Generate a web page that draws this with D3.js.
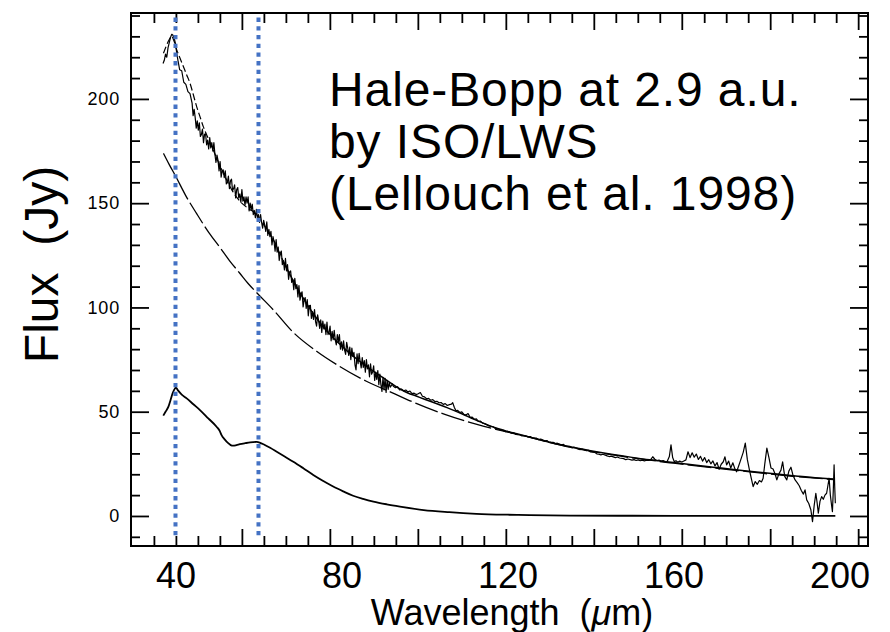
<!DOCTYPE html>
<html>
<head>
<meta charset="utf-8">
<script src="https://cdn.jsdelivr.net/npm/d3@7"></script>
<style>
  body { margin: 0; background: #fff; }
  svg { display: block; }
  text { font-family: "Liberation Sans", Arial, Helvetica, sans-serif; fill: #000; }
</style>
</head>
<body>
<svg id="chart" width="890" height="632"></svg>
<script>
// ISO/LWS spectrum of comet Hale-Bopp (wavelength in µm, flux in Jy)
const observed = [
  [37.0,217],[37.3,218.5],[37.6,221.5],[37.9,220],[38.2,224.5],[38.5,227],[38.8,229.5],[39.1,231],
  [39.4,230.5],[39.7,229],[40.0,226.5],[40.3,222],[40.5,219.5],[41,214],[41.5,213.5],[42,208],
  [42.5,207],[43,203.5],[43.5,202.5],
  [44.00,198],[44.25,192],[44.50,195],[44.75,191],[45.00,186],[45.25,189.5],[45.50,185],[45.75,188.5],
  [46.00,182],[46.25,183],[46.50,185.5],[46.75,179],[47.00,183],[47.25,183.25],[47.50,178],[47.75,180.25],
  [48.00,176],[48.25,181.5],[48.50,176.5],[48.75,179],[49.00,175],[49.25,179],[49.50,173.5],[49.75,169.5],
  [50.00,173],[50.25,170.5],[50.50,165.5],[50.75,170],[51.00,162.5],[51.25,165.5],[51.50,166],[51.75,162.25],
  [52.00,165.5],[52.25,159.25],[52.50,160],[52.75,163],[53.00,157],[53.25,160.75],[53.50,161.5],[53.75,156],
  [54.00,157],[54.25,158.75],[54.50,152.5],[54.75,156.5],[55.00,157.5],[55.25,152.5],[55.50,154.5],[55.75,150.5],
  [56.00,156.5],[56.25,151],[56.50,153],[56.75,149],[57.00,153],[57.25,150],[57.50,153],[57.75,146.25],
  [58.00,150],[58.25,146.75],[58.50,149.5],[58.75,144.5],[59.00,146.5],[59.25,143],[59.50,147],[59.75,142.75],
  [60.00,144.5],[60.25,140.75],[60.50,144.5],[60.75,140.75],[61.00,138],[61.25,141.75],[61.50,139.5],[61.75,136.5],
  [62.00,141],[62.25,134.5],[62.50,137.5],[62.75,134],[63.00,136.5],[63.25,130],[63.50,134],[63.75,131.5],
  [64.00,127],[64.25,132.5],[64.50,126.5],[64.75,129],[65.00,122.5],[65.25,126],[65.50,127],[65.75,120.5],
  [66.00,122.5],[66.25,118],[66.50,123.5],[66.75,117.5],[67.00,120.5],[67.25,113.5],[67.50,117],[67.75,117.5],
  [68.00,112],[68.25,113.5],[68.50,108.5],[68.75,114],[69.00,109],[69.25,111],[69.50,105],[69.75,110.5],
  [70.00,103.5],[70.25,106.25],[70.50,107.5],[70.75,100.25],[71.00,103.5],[71.25,104.75],[71.50,99.5],[71.75,103.75],
  [72.00,96],[72.25,100.75],[72.50,101],[72.75,94.75],[73.00,98],[73.25,94.25],[73.50,99],[73.75,93.25],
  [74.00,91],[74.25,96.5],[74.50,93.5],[74.75,90],[75.00,94],[75.25,88],[75.50,93.5],[75.75,89.75],
  [76.00,92],[76.25,87],[76.50,93],[76.75,87],[77.00,88],[77.25,91],[77.50,84],[77.75,88.5],
  [78.00,84.5],[78.25,89],[78.50,84.5],[78.75,82],[79.00,87],[79.25,83.5],[79.50,87],[79.75,80],
  [80.00,83.5],[80.25,79.5],[80.50,84],[80.75,79.5],[81.00,77.5],[81.25,83.25],[81.50,80.5],[81.75,77],
  [82.00,81],[82.25,75],[82.50,80.5],[82.75,76.5],[83.00,78.5],[83.25,72.5],[83.50,70],[83.75,77.75],
  [84.00,73],[84.25,78],[84.50,74],[84.75,71],[85.00,76],[85.25,71.25],[85.50,74.5],[85.75,69],
  [86.00,75],[86.25,70.5],[86.50,72.5],[86.75,66.75],[87.00,73],[87.25,68],[87.50,69],[87.75,72],
  [88.00,65],[88.25,69],[88.50,65.5],[88.75,69.75],[89.00,63],[89.25,68],[89.50,63],[89.75,59.75],
  [90.00,66.5],[90.25,60.5],[90.50,66],[90.75,59.25],[91.00,65],[91.25,60.75],[91.50,64],[91.75,61.75],
  [92.00,62.5],[92.25,63.25],[92.5,62.2],[93,61.5],[93.5,62],[94,60.5],
  [94.5,60.8],[95,60],[95.5,60.4],[96,59.5],[96.5,59.9],[97,58.7],[97.5,58.9],[98,58.2],
  [98.5,58.6],[99,59.2],[99.5,57.4],[100,57.1],[100.5,56.2],[101,56.4],[101.5,55.5],[102,55.8],
  [102.5,54.9],[103,55.0],[103.5,54.3],[104,54.4],[104.5,53.5],[105,53.9],[105.5,53.0],[106,53.4],
  [106.5,53.6],[106.8,54.3],[107.2,52.0],[107.6,50.4],[108,50.6],[108.5,49.6],[109,49.9],[109.5,48.7],
  [110,48.4],[110.5,49.1],[111,47.3],[111.5,47.4],[112,46.4],[112.5,46.6],[113,45.4],[113.5,45.5],
  [114,44.5],[114.5,44.3],[115,43.8],[115.5,43.2],[116,42.9],[116.5,42.8],[117,42.1],[118,41.6],
  [118.5,41.0],[119,41.1],[119.5,40.4],[120,40.6],[121,39.7],[121.5,39.9],[122,39.1],[123,38.9],
  [123.5,38.4],[124,38.6],[125,37.9],[125.5,38.1],[126,37.4],[127,37.3],[127.5,36.6],[128,36.9],
  [129,36.0],[129.5,36.2],[130,35.4],[131,35.3],[131.5,34.7],[132,34.9],[133,34.1],[133.5,34.3],
  [134,33.5],[135,33.4],[135.5,32.8],[136,33.0],[137,32.3],[137.5,31.8],[138,32.1],[139,31.3],
  [139.5,31.5],[140,30.7],[141,30.5],[141.5,29.8],[142,29.6],[142.5,29.3],[143,29.6],[144,28.8],
  [144.5,28.5],[145,28.7],[146,28.0],[146.5,28.3],[147,27.8],[148,27.5],[148.5,27.0],[149,27.3],
  [150,26.8],[150.5,27.0],[151,26.6],[151.5,26.9],[152,26.5],[152.5,26.8],[153,26.4],[153.5,26.7],
  [154,26.6],[154.5,27.0],[155,28.4],[155.5,27.2],[156,26.5],[156.5,26.8],[157,26.2],[157.5,26.6],
  [158,26.0],[158.5,26.2],[159,28.5],[159.4,34.1],[159.8,28.0],[160.2,26.0],[160.6,26.5],[161,25.8],
  [161.5,26.3],[162,25.9],[162.5,26.4],[163,26.9],[163.5,30.8],[164,28.0],[164.5,30.3],[165,28.2],
  [165.5,29.7],[166,27.1],[166.5,28.6],[167,26.3],[167.5,28.0],[168,25.6],[168.5,27.0],[169,25.0],
  [169.5,26.4],[170,24.0],[170.5,25.6],[171,22.4],[171.5,24.8],[172,26.0],[172.4,28.4],[172.8,24.5],
  [173.3,26.3],[173.8,23.0],[174.3,25.5],[174.8,22.6],[175.2,21.2],[175.7,24.0],[176.2,26.9],[176.8,30.5],
  [177.3,34.9],[177.8,27.0],[178.3,22.1],[178.8,17.5],[179.2,14.1],[179.7,16.5],[180.2,15.2],[180.7,17.0],
  [181.2,16.3],[181.6,18.1],[182.0,25.0],[182.5,32.5],[183.0,28.0],[183.5,23.0],[184.0,22.5],[184.5,20.0],
  [184.9,17.3],[185.4,20.2],[185.9,22.0],[186.3,26.0],[186.8,19.0],[187.3,17.3],[187.8,21.5],[188.3,23.4],
  [188.8,19.5],[189.3,17.3],[189.8,16.0],[190.3,14.5],[190.8,12.2],[191.3,10.5],[191.7,12.5],[192.1,7.7],
  [192.6,6.0],[193.1,3.0],[193.5,-2.7],[193.9,5.0],[194.3,10.9],[194.6,6.5],[194.9,1.3],[195.3,7.0],
  [195.7,9.3],[196.1,8.0],[196.5,10.0],[196.9,10.9],[197.2,14.5],[197.5,18.1],[197.8,10.0],[198.1,5.0],
  [198.3,2.1],[198.5,12.0],[198.7,24.5],[198.85,14.0],[199.0,6.1]
];

// Total model (dashed at short wavelengths, solid beyond)
const totalModel = [
  [37.1,221.9],[37.8,225.5],[38.5,228.5],[39.1,230.0],[39.6,228.0],[40.3,223.5],[41.1,219.5],[41.9,215.5],
  [42.7,211.5],[43.5,207.5],[44.3,202.0],[45.1,196.3],[45.9,191.5],[46.7,186.7],[47.9,181.0],[49.1,175.5],
  [50.7,168.0],[52.3,161.2],[53.9,155.3],[55.5,151.0],[57.5,147.5],[59.6,144.5],[61.0,140.5],[62.3,136.5],
  [63.6,132.4],[65.0,126.5],[66,122],[67,118],[68,114.2],[69,110.5],[70,107],[71,103.8],[72,100.6],
  [73,97.6],[74,94.8],[75,92.2],[76,89.8],[77,87.6],[78,85.5],[80,81.6],[82,78.0],[84,74.8],[86,71.8],
  [88,69.0],[90,66.3],[92,63.6],[94,61.0],[96,59.0],[98,57.5],[100,56.0],[103,53.8],[106,51.5],
  [109,49.0],[112,46.3],[115,43.8],[118,41.7],[121,40.0],[125,38.0],[130,35.4],[135,33.2],[140,31.3],
  [145,29.6],[150,28.1],[155,26.8],[160,25.6],[165,24.4],[170,23.3],[175,22.2],[180,21.1],[185,20.1],
  [190,19.1],[195,18.2],[198.5,17.7]
];
const dashedUpTo = 66;

// Continuum component (long dashes)
const continuum = [
  [37.1,173.9],[38.5,168.5],[40.1,162.7],[42.5,153.5],[45.1,145.0],[48.0,136.0],[50.7,128.8],[53.0,122.5],
  [55.5,116.4],[57.5,111.5],[59.7,106.8],[63.6,98.8],[68.4,88.0],[74.0,79.0],[79.5,71.8],[86.0,64.6],
  [92.0,59.3],[98.0,54.0],[104.9,48.7],[110,45.4],[116.3,42.0],[125.3,37.8],[135,33.0],[145,29.4],
  [160,25.3],[175,21.9],[190,18.8],[198.5,17.5]
];

// Crystalline feature component (solid, bottom)
const feature = [
  [37.06,48.1],[37.6,50.0],[38.3,52.4],[38.8,55.5],[39.3,58.8],[39.7,60.6],[40.1,61.5],[40.6,60.2],
  [41.5,58.2],[42.7,56.4],[44.3,53.6],[45.9,50.8],[47.9,46.8],[49.9,42.8],[50.6,41.0],[51.1,38.8],
  [51.9,36.6],[52.7,34.9],[53.3,34.0],[53.9,33.7],[54.7,34.0],[55.5,34.4],[56.8,34.9],[58.0,35.3],
  [59.6,35.5],[60.4,35.1],[61.2,34.4],[62.8,32.7],[64.4,30.8],[66.4,28.4],[68.4,26.0],[70.8,22.9],
  [73.2,19.7],[75.6,16.8],[78.0,14.1],[80.4,11.8],[82.8,9.7],[85.2,8.2],[87.7,6.9],[90.9,5.6],
  [94.1,4.5],[99.8,2.8],[106,1.8],[112.5,1.05],[120,0.6],[125.3,0.4],[135,0.2],[150,0.1],[170,0.05],[199,0.0]
];

// Marked wavelengths (µm)
const markedLines = [40, 60];

// Axis ticks
const xLabelTicks = [40, 80, 120, 160, 200];
const xMajorTicks = [56.0, 77.2, 98.4, 119.6, 140.8, 162.0, 183.3, 204.5];
const xMinorTicks = [34.8, 40.1, 45.4, 50.7, 61.3, 66.6, 71.9, 82.5, 87.8, 93.1, 103.7, 109.0, 114.3,
                     124.9, 130.2, 135.5, 146.1, 151.4, 156.7, 167.4, 172.7, 178.0, 188.6, 193.9, 199.2];
const yMajorTicks = [0, 50, 100, 150, 200];
const yMinorTicks = [-10, 10, 20, 30, 40, 60, 70, 80, 90, 110, 120, 130, 140, 160, 170, 180, 190, 210, 220, 230, 240];

const titleLines = ["Hale-Bopp at 2.9 a.u.", "by ISO/LWS", "(Lellouch et al. 1998)"];

const svg = d3.select("#chart");
const frame = { left: 131, right: 868, top: 13, bottom: 546 };

const x = d3.scaleLinear().domain([29.28, 206.87]).range([frame.left, frame.right]);
const y = d3.scaleLinear().domain([-14.4, 241.2]).range([frame.bottom, frame.top]);

const smooth = d3.line().x(d => x(d[0])).y(d => y(d[1])).curve(d3.curveMonotoneX);
const jagged = d3.line().x(d => x(d[0])).y(d => y(d[1]));

// Curves
svg.append("path").datum(feature)
  .attr("d", smooth).attr("fill", "none").attr("stroke", "#000").attr("stroke-width", 1.8);

svg.append("path").datum(continuum)
  .attr("d", smooth).attr("fill", "none").attr("stroke", "#000").attr("stroke-width", 1.3)
  .attr("stroke-dasharray", "24,4");

svg.append("path").datum(totalModel.filter(d => d[0] <= dashedUpTo))
  .attr("d", smooth).attr("fill", "none").attr("stroke", "#000").attr("stroke-width", 1.2)
  .attr("stroke-dasharray", "7,3");

svg.append("path").datum(totalModel.filter(d => d[0] >= dashedUpTo))
  .attr("d", smooth).attr("fill", "none").attr("stroke", "#000").attr("stroke-width", 1.5);

svg.append("path").datum(observed)
  .attr("d", jagged).attr("fill", "none").attr("stroke", "#000").attr("stroke-width", 1.2)
  .attr("stroke-linejoin", "round");

// Axes with inward ticks on all four sides
function styleAxis(g) {
  g.select(".domain").remove();
  g.selectAll(".tick line").attr("stroke", "#000").attr("stroke-width", 1.8);
}
const noLabel = () => "";

svg.append("g").attr("transform", `translate(0,${frame.bottom})`)
  .call(d3.axisBottom(x).tickValues(xMajorTicks).tickSize(-17).tickFormat(noLabel)).call(styleAxis);
svg.append("g").attr("transform", `translate(0,${frame.bottom})`)
  .call(d3.axisBottom(x).tickValues(xMinorTicks).tickSize(-10).tickFormat(noLabel)).call(styleAxis);
svg.append("g").attr("transform", `translate(0,${frame.top})`)
  .call(d3.axisTop(x).tickValues(xMajorTicks).tickSize(-17).tickFormat(noLabel)).call(styleAxis);
svg.append("g").attr("transform", `translate(0,${frame.top})`)
  .call(d3.axisTop(x).tickValues(xMinorTicks).tickSize(-10).tickFormat(noLabel)).call(styleAxis);

const yLeft = svg.append("g").attr("transform", `translate(${frame.left},0)`)
  .call(d3.axisLeft(y).tickValues(yMajorTicks).tickSize(-18).tickPadding(11).tickFormat(d3.format("d")))
  .call(styleAxis);
yLeft.selectAll("text").attr("font-size", 18).attr("font-family", "'Liberation Sans', Arial, sans-serif")
  .attr("letter-spacing", 0.8).attr("fill", "#000");
svg.append("g").attr("transform", `translate(${frame.left},0)`)
  .call(d3.axisLeft(y).tickValues(yMinorTicks).tickSize(-9).tickFormat(noLabel)).call(styleAxis);
svg.append("g").attr("transform", `translate(${frame.right},0)`)
  .call(d3.axisRight(y).tickValues(yMajorTicks).tickSize(-18).tickFormat(noLabel)).call(styleAxis);
svg.append("g").attr("transform", `translate(${frame.right},0)`)
  .call(d3.axisRight(y).tickValues(yMinorTicks).tickSize(-9).tickFormat(noLabel)).call(styleAxis);

// Large wavelength labels below the frame
const xLab = svg.append("g").attr("transform", `translate(0,${frame.bottom})`)
  .call(d3.axisBottom(x).tickValues(xLabelTicks).tickSize(0).tickPadding(16).tickFormat(d3.format("d")));
xLab.select(".domain").remove();
xLab.selectAll("text").attr("font-size", 36).attr("font-family", "'Liberation Sans', Arial, sans-serif")
  .attr("fill", "#000");

// Frame
svg.append("rect").attr("x", frame.left).attr("y", frame.top)
  .attr("width", frame.right - frame.left).attr("height", frame.bottom - frame.top)
  .attr("fill", "none").attr("stroke", "#000").attr("stroke-width", 2);

// Dotted markers at 40 and 60 µm
svg.selectAll("line.marker").data(markedLines).enter().append("line")
  .attr("class", "marker")
  .attr("x1", d => x(d)).attr("x2", d => x(d))
  .attr("y1", y(239)).attr("y2", y(-9.8))
  .attr("stroke", "#4472C4").attr("stroke-width", 4).attr("stroke-dasharray", "4.3,4.4");

// Axis titles
svg.append("text")
  .attr("transform", "translate(58,264.5) rotate(-90)")
  .attr("text-anchor", "middle").attr("font-size", 48)
  .style("white-space", "pre")
  .text("Flux  (Jy)");

const xt = svg.append("text")
  .attr("x", 512).attr("y", 625).attr("text-anchor", "middle").attr("font-size", 36)
  .style("white-space", "pre");
xt.append("tspan").text("Wavelength  (");
xt.append("tspan").attr("font-style", "italic").text("μ");
xt.append("tspan").text("m)");

// Title block
svg.append("g").selectAll("text").data(titleLines).enter().append("text")
  .attr("x", 329).attr("y", (d, i) => 106 + i * 52)
  .attr("font-size", 48).attr("letter-spacing", 0.9)
  .text(d => d);
</script>
</body>
</html>
